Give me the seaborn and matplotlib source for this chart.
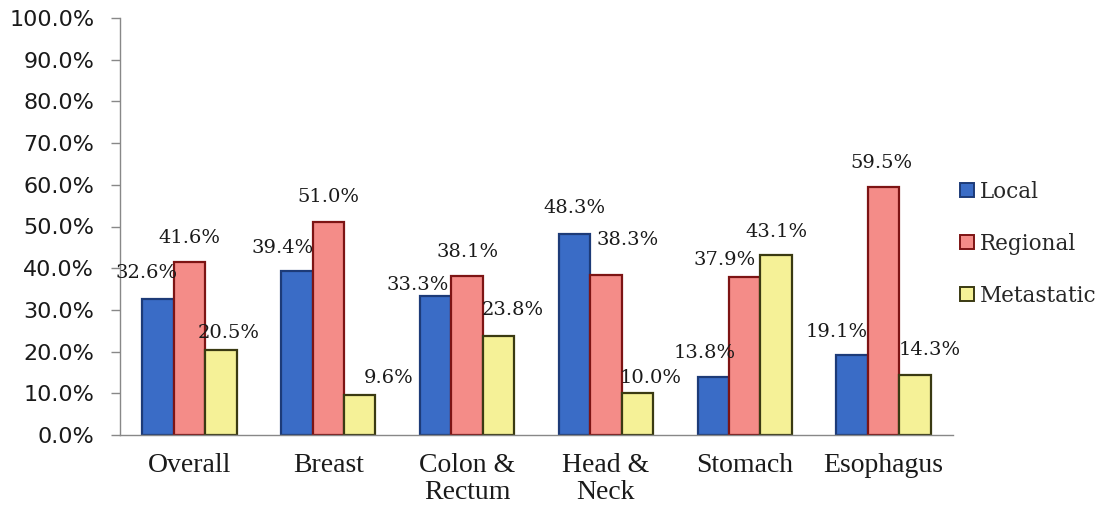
import seaborn as sns
import pandas as pd
import matplotlib.pyplot as plt
from matplotlib.lines import Line2D


# Chart data

categories = ["Overall", "Breast", "Colon &\nRectum", "Head &\nNeck", "Stomach", "Esophagus"]
stages = ["Local", "Regional", "Metastatic"]
local = [32.6, 39.4, 33.3, 48.3, 13.8, 19.1]
regional = [41.6, 51.0, 38.1, 38.3, 37.9, 59.5]
metastatic = [20.5, 9.6, 23.8, 10.0, 43.1, 14.3]
y_ticks = [0, 10, 20, 30, 40, 50, 60, 70, 80, 90, 100]

# label nudges (pixels from bar top centre), per stage, per category
label_dx = [
  [-11, -14, -18, 0, -9, -15],
  [0, 0, 0, 22, -20, -2],
  [8, 29, 14, 13, 0, 15],
]
label_dy = [
  [26, 23, 11, 26, 24, 23],
  [24, 25, 24, 35, 17, 24],
  [17, 17, 26, 15, 23, 25],
]

face_colors = ["#3a6cc6", "#f48c88", "#f5f197"]
edge_colors = ["#1d3b78", "#7d1414", "#3a3a12"]

df = pd.DataFrame({
  "category": categories * 3,
  "stage": [s for s in stages for _ in categories],
  "value": local + regional + metastatic,
})

sns.set_style("white")
plt.rcParams["font.family"] = ["DejaVu Sans"]

fig = plt.figure(figsize=(10.99, 5.08), dpi=100)
ax = fig.add_axes([120 / 1099, 73 / 508, 833 / 1099, 417 / 508])

sns.barplot(
  data=df, x="category", y="value", hue="stage",
  order=categories, hue_order=stages,
  palette=face_colors, saturation=1, width=0.68, ax=ax, legend=False,
)

for i, container in enumerate(ax.containers):
  for j, bar in enumerate(container):
    bar.set_edgecolor(edge_colors[i])
    bar.set_linewidth(1.6)
    ax.annotate(
      f"{bar.get_height():.1f}%",
      (bar.get_x() + bar.get_width() / 2, bar.get_height()),
      xytext=(label_dx[i][j], label_dy[i][j]),
      textcoords="offset pixels",
      ha="center", va="center",
      fontsize=14, family="DejaVu Serif", color="#1a1a1a",
    )

# axes styling
ax.set_ylim(0, 100)
ax.set_xlim(-0.5, len(categories) - 0.5)
ax.set_yticks(y_ticks)
ax.set_yticklabels([f"{t:.1f}%" for t in y_ticks], fontsize=16, color="#1a1a1a")
ax.set_xticks(range(len(categories)))
ax.set_xticklabels(categories, fontsize=20, family="Liberation Serif", color="#1a1a1a", linespacing=1.1)
ax.set_xticks([k - 0.5 for k in range(len(categories) + 1)], minor=True)
ax.tick_params(axis="x", which="major", length=0, pad=13)
ax.tick_params(axis="x", which="minor", length=6, width=1, color="#888888", direction="out")
ax.tick_params(axis="y", length=6.5, width=1, color="#888888", direction="out", pad=12, left=True)
ax.set_xlabel("")
ax.set_ylabel("")
sns.despine(ax=ax)
for side in ["left", "bottom"]:
  ax.spines[side].set_color("#888888")
  ax.spines[side].set_linewidth(1)

handles = [
  Line2D([], [], marker="s", linestyle="", markersize=10,
         markerfacecolor=face_colors[k], markeredgecolor=edge_colors[k], markeredgewidth=1.4)
  for k in range(len(stages))
]
fig.legend(
  handles, stages, loc="upper left", bbox_to_anchor=(950 / 1099, 1 - 172 / 508),
  frameon=False, prop={"family": "DejaVu Serif", "size": 15.5},
  handletextpad=0.2, handlelength=0.8, labelspacing=1.4, borderaxespad=0,
)

fig.savefig("out.png", dpi=100)
